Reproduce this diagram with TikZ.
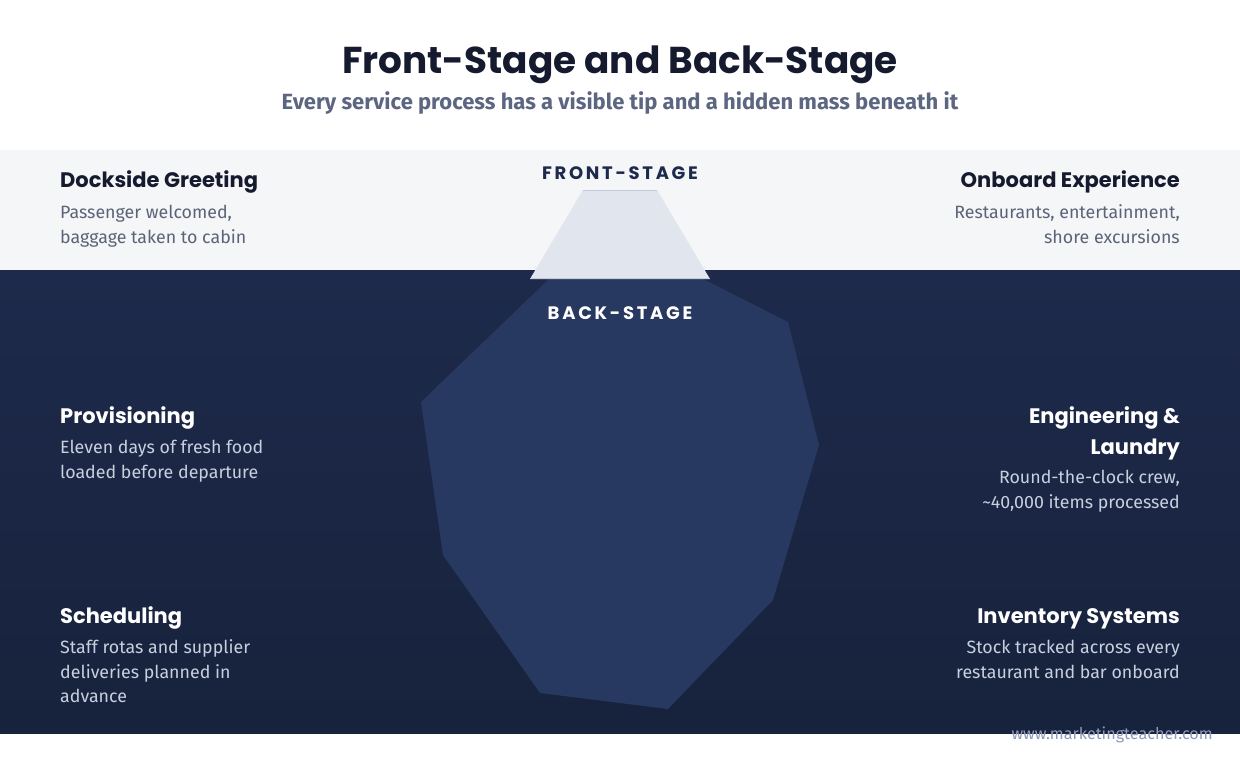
\documentclass[tikz,border=0pt]{standalone}
\usepackage{fontspec}
\setmainfont{Fira Sans}
\newfontfamily\headf{Poppins}
\newfontfamily\stagef{Poppins}[LetterSpace=15]
\newfontfamily\bodyf{Fira Sans}
\definecolor{titlec}{HTML}{151A2E}
\definecolor{subc}{HTML}{5D6681}
\definecolor{bandc}{HTML}{F5F6F8}
\definecolor{darktop}{HTML}{1E2A4B}
\definecolor{darkbot}{HTML}{17223C}
\definecolor{polyc}{HTML}{273961}
\definecolor{tipc}{HTML}{E1E5EE}
\definecolor{tipline}{HTML}{C3C9D8}
\definecolor{lightbody}{HTML}{5B6378}
\definecolor{darkbody}{HTML}{C8CFDF}
\definecolor{wmc}{HTML}{8F9ABB}
\newcommand{\leftlines}[1]{\begin{tabular}[t]{@{}l@{}}#1\end{tabular}}
\newcommand{\rightlines}[1]{\begin{tabular}[t]{@{}r@{}}#1\end{tabular}}
\begin{document}
\begin{tikzpicture}[x=1pt,y=-1pt,
  head/.style={inner sep=0pt,font=\headf\bfseries\fontsize{21}{31}\selectfont},
  body/.style={inner sep=0pt,font=\bodyf\fontsize{17.8}{24.5}\selectfont},
  lhead/.style={head,text=titlec},
  lbody/.style={body,text=lightbody},
  dhead/.style={head,text=white},
  dbody/.style={body,text=darkbody},
  leftbox/.style={anchor=base west},
  rightbox/.style={anchor=base east},
  stage/.style={inner sep=0pt,anchor=base,font=\stagef\bfseries\fontsize{18}{20}\selectfont}]
\useasboundingbox (0,0) rectangle (1240,760);
\fill[white] (0,0) rectangle (1240,760);
\fill[bandc] (0,150) rectangle (1240,270);
\shade[top color=darktop,bottom color=darkbot] (0,270) rectangle (1240,733);
% hidden mass
\fill[polyc] (549,279) -- (703,279) -- (788,322) -- (819,445) -- (773,600) -- (668,709) -- (540,693) -- (443,555) -- (421,402) -- cycle;
% visible tip
\fill[tipc] (583,190) -- (657,190) -- (710,279) -- (530,279) -- cycle;
\draw[tipline,line width=1.5pt] (583,190.5) -- (657,190.5);
\draw[tipline,line width=1.5pt] (530,278.5) -- (710,278.5);
% title
\node[inner sep=0pt,anchor=base,text=titlec,font=\headf\bfseries\fontsize{37.4}{40}\selectfont] (title) at (620,73.5) {Front-Stage and Back-Stage};
\node[inner sep=0pt,anchor=base,text=subc,font=\bodyf\bfseries\fontsize{22}{26}\selectfont] (subtitle) at (620,109.5) {Every service process has a visible tip and a hidden mass beneath it};
\node[stage,text=darktop] (front) at (620,179) {FRONT-STAGE};
\node[stage,text=white] (back) at (620,319) {BACK-STAGE};
% front-stage items
\node[lhead,leftbox] (h1) at (60,187.5) {Dockside Greeting};
\node[lbody,leftbox] (b1) at (60,218.5) {\leftlines{Passenger welcomed,\\baggage taken to cabin}};
\node[lhead,rightbox] (h2) at (1180,187.5) {Onboard Experience};
\node[lbody,rightbox] (b2) at (1180,218.5) {\rightlines{Restaurants, entertainment,\\shore excursions}};
% back-stage items
\node[dhead,leftbox] (h3) at (60,423) {Provisioning};
\node[dbody,leftbox] (b3) at (60,453.5) {\leftlines{Eleven days of fresh food\\loaded before departure}};
\node[dhead,rightbox] (h4) at (1180,423) {\rightlines{Engineering \&\\Laundry}};
\node[dbody,rightbox] (b4) at (1180,483.5) {\rightlines{Round-the-clock crew,\\\textasciitilde 40,000 items processed}};
\node[dhead,leftbox] (h5) at (60,623) {Scheduling};
\node[dbody,leftbox] (b5) at (60,653.5) {\leftlines{Staff rotas and supplier\\deliveries planned in\\advance}};
\node[dhead,rightbox] (h6) at (1180,623) {Inventory Systems};
\node[dbody,rightbox] (b6) at (1180,653.5) {\rightlines{Stock tracked across every\\restaurant and bar onboard}};
\node[inner sep=0pt,anchor=base east,text=wmc,font=\bodyf\fontsize{16.2}{18}\selectfont] (wm) at (1213,739) {www.marketingteacher.com};
\end{tikzpicture}
\end{document}
